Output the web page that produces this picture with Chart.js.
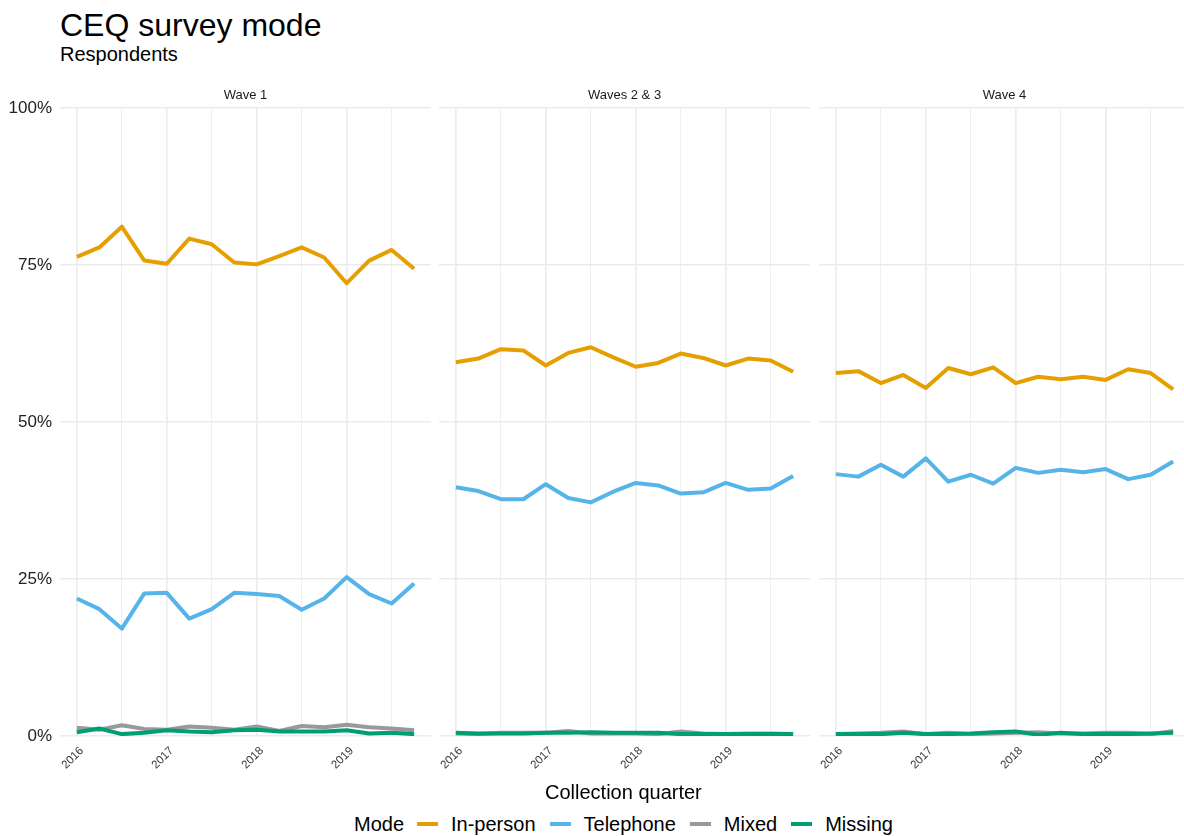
<!DOCTYPE html>
<html>
<head>
<meta charset="utf-8">
<script src="https://cdn.jsdelivr.net/npm/chart.js@4"></script>
<style>
  body { margin: 0; background: #fff; overflow: hidden; font-family: "Liberation Sans", Arial, sans-serif; }
  #page { position: relative; width: 1184px; height: 836px; overflow: hidden; background: #fff; }
  canvas { position: absolute; top: 80px; }
  .txt { position: absolute; white-space: nowrap; color: #000; }
  #legend { display: flex; align-items: center; }
  #legend .key { display: inline-block; width: 21px; height: 4px; margin: 0 13px; }
</style>
</head>
<body>
<div id="page">
  <div class="txt" style="left:60px; top:9px; font-size:32px; line-height:32px;">CEQ survey mode</div>
  <div class="txt" style="left:60px; top:44px; font-size:20px; line-height:20px;">Respondents</div>

  <canvas id="wave1" width="431" height="700" style="left:0px;"></canvas>
  <canvas id="wave23" width="391" height="700" style="left:419px;"></canvas>
  <canvas id="wave4" width="391" height="700" style="left:799px;"></canvas>

  <div class="txt" style="left:545px; top:782px; font-size:20px; line-height:20px;">Collection quarter</div>
  <div id="legend" class="txt" style="left:354px; top:814px; font-size:20px; line-height:20px;"></div>
</div>

<script>
// x positions (collection quarters as decimal years)
const quarters = [2016, 2016.25, 2016.5, 2016.75,
                  2017, 2017.25, 2017.5, 2017.75,
                  2018, 2018.25, 2018.5, 2018.75,
                  2019, 2019.25, 2019.5, 2019.75];
const gridTicks = [2016, 2016.5, 2017, 2017.5, 2018, 2018.5, 2019, 2019.5];
const yTicks = [0, 25, 50, 75, 100];

const waves = ['Wave 1', 'Waves 2 & 3', 'Wave 4'];
const modes = ['In-person', 'Telephone', 'Mixed', 'Missing'];
const modeColors = ['#E69F00', '#56B4E9', '#999999', '#009E73'];

// percentages of respondents
const wave1InPerson  = [76.3, 77.8, 81.1, 75.7, 75.2, 79.2, 78.3, 75.4, 75.1, 76.4, 77.8, 76.2, 72.1, 75.7, 77.4, 74.4];
const wave1Telephone = [21.9, 20.2, 17.1, 22.7, 22.8, 18.7, 20.2, 22.8, 22.6, 22.3, 20.1, 21.9, 25.3, 22.6, 21.1, 24.3];
const wave1Mixed     = [1.3, 1.0, 1.7, 1.1, 1.0, 1.5, 1.3, 1.0, 1.5, 0.8, 1.6, 1.4, 1.8, 1.4, 1.2, 0.9];
const wave1Missing   = [0.6, 1.2, 0.3, 0.5, 0.9, 0.7, 0.6, 0.9, 1.0, 0.7, 0.7, 0.7, 0.9, 0.4, 0.5, 0.3];

const wave23InPerson  = [59.5, 60.1, 61.6, 61.4, 59.0, 61.0, 61.9, 60.3, 58.8, 59.4, 60.9, 60.2, 59.0, 60.1, 59.8, 58.0];
const wave23Telephone = [39.6, 39.0, 37.7, 37.7, 40.1, 37.9, 37.2, 38.9, 40.3, 39.9, 38.6, 38.8, 40.3, 39.2, 39.4, 41.4];
const wave23Mixed     = [0.4, 0.3, 0.5, 0.5, 0.5, 0.8, 0.4, 0.4, 0.4, 0.3, 0.7, 0.4, 0.3, 0.4, 0.4, 0.3];
const wave23Missing   = [0.5, 0.4, 0.4, 0.4, 0.5, 0.5, 0.6, 0.5, 0.5, 0.5, 0.3, 0.3, 0.3, 0.3, 0.3, 0.3];

const wave4InPerson  = [57.8, 58.1, 56.2, 57.5, 55.4, 58.6, 57.6, 58.7, 56.2, 57.2, 56.8, 57.2, 56.7, 58.4, 57.8, 55.2];
const wave4Telephone = [41.7, 41.3, 43.2, 41.3, 44.2, 40.5, 41.6, 40.2, 42.7, 41.9, 42.4, 42.0, 42.5, 40.9, 41.6, 43.7];
const wave4Mixed     = [0.3, 0.4, 0.5, 0.7, 0.3, 0.5, 0.3, 0.4, 0.5, 0.6, 0.4, 0.4, 0.5, 0.5, 0.3, 0.8];
const wave4Missing   = [0.3, 0.3, 0.3, 0.5, 0.3, 0.3, 0.4, 0.6, 0.7, 0.2, 0.5, 0.3, 0.3, 0.3, 0.4, 0.5];

const FONT = '"Liberation Sans", Arial, sans-serif';
const GRID = '#ebebeb';

// legend
const legend = document.getElementById('legend');
legend.innerHTML = '<span>Mode</span>' + modes.map((m, i) =>
  '<span class="key" style="background:' + modeColors[i] + (i > 0 ? ';margin-left:14px' : '') + '"></span><span>' + m + '</span>'
).join('');

function makePanel(canvasId, title, series, showY) {
  const datasets = series.map((vals, i) => ({
    label: modes[i],
    data: quarters.map((q, j) => ({ x: q, y: vals[j] })),
    borderColor: modeColors[i],
    backgroundColor: modeColors[i],
    borderWidth: 4,
    borderJoinStyle: 'round',
    pointRadius: 0,
    tension: 0,
    fill: false,
    order: 4 - i
  }));

  new Chart(document.getElementById(canvasId), {
    type: 'line',
    data: { datasets: datasets },
    options: {
      responsive: false,
      animation: false,
      layout: { padding: { left: showY ? 0 : 20, right: 0, top: 0, bottom: 0 } },
      plugins: {
        legend: { display: false },
        tooltip: { enabled: false },
        title: {
          display: true,
          text: title,
          fullSize: false,
          color: '#1a1a1a',
          font: { family: FONT, size: 13, weight: 'normal' },
          padding: { top: 8, bottom: 4.4 }
        }
      },
      scales: {
        x: {
          type: 'linear',
          min: 2016 - 0.1875,
          max: 2019.75 + 0.1875,
          afterBuildTicks: s => { s.ticks = gridTicks.map(v => ({ value: v })); },
          afterFit: s => { s.height = 44; s.paddingLeft = 0; s.paddingRight = 0; },
          border: { display: false },
          grid: {
            color: GRID,
            lineWidth: ctx => (ctx.tick && Number.isInteger(ctx.tick.value)) ? 1.6 : 0.8,
            drawTicks: false
          },
          ticks: {
            autoSkip: false,
            minRotation: 45,
            maxRotation: 45,
            padding: 8,
            labelOffset: 5,
            color: '#333',
            font: { family: FONT, size: 11.5 },
            callback: v => Number.isInteger(v) ? String(v) : ''
          }
        },
        y: {
          min: 0,
          max: 100,
          afterBuildTicks: s => { s.ticks = yTicks.map(v => ({ value: v })); },
          afterFit: s => { s.width = showY ? 60 : 0; s.paddingTop = 0; s.paddingBottom = 0; },
          border: { display: false },
          grid: { color: GRID, lineWidth: 1.6, drawTicks: false },
          ticks: {
            display: showY,
            padding: 8,
            color: '#222',
            font: { family: FONT, size: 17 },
            callback: v => v + '%'
          }
        }
      }
    }
  });
}

makePanel('wave1', waves[0], [wave1InPerson, wave1Telephone, wave1Mixed, wave1Missing], true);
makePanel('wave23', waves[1], [wave23InPerson, wave23Telephone, wave23Mixed, wave23Missing], false);
makePanel('wave4', waves[2], [wave4InPerson, wave4Telephone, wave4Mixed, wave4Missing], false);
</script>
</body>
</html>
